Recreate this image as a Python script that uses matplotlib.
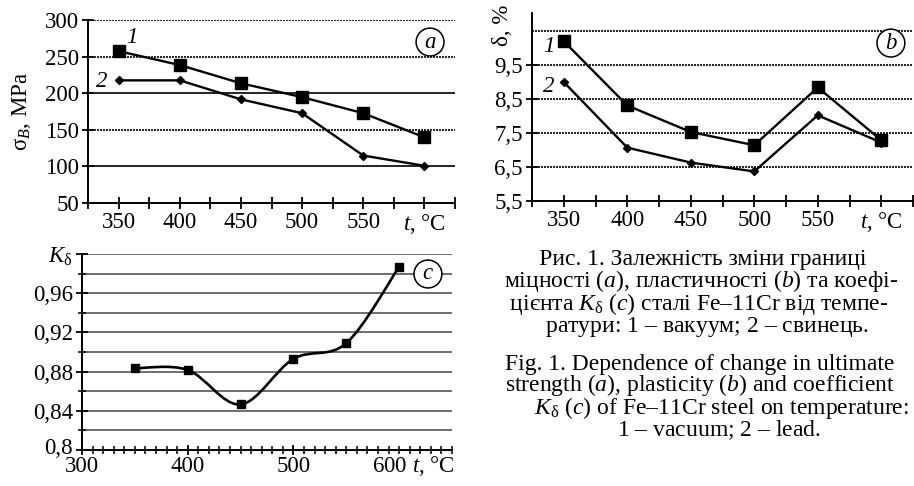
import numpy as np
import matplotlib
matplotlib.use("Agg")
import matplotlib.pyplot as plt
from matplotlib.path import Path
from matplotlib.patches import PathPatch
from matplotlib.ticker import MultipleLocator
from matplotlib.transforms import ScaledTranslation

plt.rcParams["font.family"] = ["Liberation Serif", "DejaVu Serif"]
plt.rcParams["mathtext.fontset"] = "custom"
plt.rcParams["mathtext.rm"] = "Liberation Serif"
plt.rcParams["mathtext.it"] = "Liberation Serif:italic"
plt.rcParams["mathtext.bf"] = "Liberation Serif:bold"

# data
temp = [350, 400, 450, 500, 550, 600]
sigma_vacuum = [258, 239, 214, 195, 173, 140]
sigma_lead = [218, 218, 192, 173, 115, 101]
delta_vacuum = [10.2, 8.31, 7.53, 7.14, 8.84, 7.29]
delta_lead = [9.0, 7.07, 6.63, 6.37, 8.02, 7.22]
k_delta = [0.8834, 0.8817, 0.8465, 0.893, 0.909, 0.987]

FS = 16.5
CAP = 17
fig = plt.figure(figsize=(9.14, 4.86), dpi=100)


def style_axes(ax):
    for s in ["top", "right"]:
        ax.spines[s].set_visible(False)
    ax.spines["left"].set_linewidth(1.4)
    ax.spines["bottom"].set_linewidth(1.4)
    ax.tick_params(direction="inout", length=9, width=1.3, labelsize=FS, pad=2)


xt = np.arange(325, 626, 25)
xlabels = ["$t$, °C" if v == 600 else (str(v) if v % 50 == 0 else "") for v in xt]

# ---- panel a
ax1 = fig.add_axes([88 / 914, 1 - 203 / 486, 367 / 914, 182.5 / 486])
style_axes(ax1)
ax1.set_xlim(325, 625)
ax1.set_ylim(50, 300)
ax1.set_xticks(xt)
ax1.set_xticklabels(xlabels)
ax1.set_yticks([50, 100, 150, 200, 250, 300])
for v in [100, 150, 200, 250, 300]:
    ls = "-" if v in (100, 200) else (0, (1.2, 0.6))
    ax1.axhline(v, color="black", lw=1.2, ls=ls, zorder=1)
ax1.plot(temp, sigma_vacuum, color="black", lw=1.7, marker="s", ms=8, zorder=3)
ax1.plot(temp, sigma_lead, color="black", lw=1.7, marker="D", ms=4.5, zorder=3)
ax1.set_ylabel("σ$_B$, MPa", fontsize=FS)
ax1.yaxis.set_label_coords(-0.15, 0.5)
ax1.text(361, 277, "1", style="italic", fontsize=FS, ha="center", va="center")
ax1.text(336, 217, "2", style="italic", fontsize=FS, ha="center", va="center")
ax1.text(0.932, 0.882, "$a$", transform=ax1.transAxes, fontsize=FS, ha="center", va="center",
         bbox=dict(boxstyle="circle,pad=0.15", fc="white", ec="black", lw=1.1))

# ---- panel b
ax2 = fig.add_axes([532 / 914, 1 - 201 / 486, 381 / 914, 188 / 486])
style_axes(ax2)
ax2.set_xlim(325, 625)
ax2.set_ylim(5.5, 11.03)
ax2.set_xticks(xt)
ax2.set_xticklabels(xlabels)
ax2.set_yticks([5.5, 6.5, 7.5, 8.5, 9.5])
ax2.set_yticklabels(["5,5", "6,5", "7,5", "8,5", "9,5"])
for v in [6.5, 7.5, 8.5, 9.5, 10.5]:
    ax2.axhline(v, color="black", lw=1.2, ls=(0, (1.2, 0.6)), zorder=1)
ax2.plot(temp, delta_vacuum, color="black", lw=1.7, marker="s", ms=8, zorder=3)
ax2.plot(temp, delta_lead, color="black", lw=1.7, marker="D", ms=4.5, zorder=3)
ax2.text(-0.078, 0.935, "δ, %", transform=ax2.transAxes, rotation=90, fontsize=FS,
         ha="center", va="center")
ax2.text(338, 10.03, "1", style="italic", fontsize=FS, ha="center", va="center")
ax2.text(338, 8.88, "2", style="italic", fontsize=FS, ha="center", va="center")
ax2.text(0.942, 0.84, "$b$", transform=ax2.transAxes, fontsize=FS, ha="center", va="center",
         bbox=dict(boxstyle="circle,pad=0.15", fc="white", ec="black", lw=1.1))

# ---- panel c
ax3 = fig.add_axes([82 / 914, 1 - 450 / 486, 370 / 914, 196 / 486])
style_axes(ax3)
ax3.set_xlim(300, 650)
ax3.set_ylim(0.8, 1.0)
ax3.set_xticks([300, 400, 500])
ax3.set_xticklabels(["300", "400", "500"])
ax3.xaxis.set_minor_locator(MultipleLocator(10))
ax3.tick_params(axis="x", which="minor", direction="inout", length=6, width=1.1)
ax3.tick_params(axis="x", which="major", length=7, pad=1)
ax3.set_yticks([0.8, 0.84, 0.88, 0.92, 0.96, 1.0])
ax3.set_yticklabels(["0,8", "0,84", "0,88", "0,92", "0,96", "$K_\\mathrm{δ}$"])
ax3.yaxis.set_minor_locator(MultipleLocator(0.02))
ax3.tick_params(axis="y", which="minor", direction="inout", length=6, width=1.1)
for v in np.arange(0.82, 1.001, 0.02):
    ax3.axhline(v, color="#555555", lw=1.2, zorder=1)
ax3.text(574, -0.02, "600 $t$, °C", transform=ax3.get_xaxis_transform(), fontsize=FS,
         ha="left", va="top")
# "0,8" sits just above the "300" label, as in the original
lab = ax3.get_yticklabels()[0]
lab.set_transform(lab.get_transform() + ScaledTranslation(0, 4 / 100, fig.dpi_scale_trans))

# smooth curve through the points (Catmull-Rom as cubic Bezier)
pts = np.column_stack([temp, k_delta])
ext = np.vstack([pts[0], pts, pts[-1]])
verts = [tuple(pts[0])]
codes = [Path.MOVETO]
for i in range(1, len(ext) - 2):
    p0, p1, p2, p3 = ext[i - 1], ext[i], ext[i + 1], ext[i + 2]
    verts += [tuple(p1 + (p2 - p0) / 6), tuple(p2 - (p3 - p1) / 6), tuple(p2)]
    codes += [Path.CURVE4] * 3
ax3.add_patch(PathPatch(Path(verts, codes), fc="none", ec="black", lw=1.9, zorder=3))
ax3.plot(temp, k_delta, ls="none", color="black", marker="s", ms=6, zorder=4)
ax3.text(0.935, 0.898, "$c$", transform=ax3.transAxes, fontsize=FS, ha="center", va="center",
         bbox=dict(boxstyle="circle,pad=0.15", fc="white", ec="black", lw=1.1))

# ---- caption (one text block per language)
caption_ua = "\n".join([
    "      Рис. 1. Залежність зміни границі",
    "міцності ($a$), пластичності ($b$) та коефі-",
    " цієнта $K_\\mathrm{δ}$ ($c$) сталі Fe–11Cr від темпе-",
    "       ратури: $\\mathit{1}$ – вакуум; $\\mathit{2}$ – свинець.",
])
caption_en = "\n".join([
    "Fig. 1. Dependence of change in ultimate",
    "strength ($a$), plasticity ($b$) and coefficient",
    "     $K_\\mathrm{δ}$ ($c$) of Fe–11Cr steel on temperature:",
    "                   $\\mathit{1}$ – vacuum; $\\mathit{2}$ – lead.",
])
fig.text(504 / 914, 1 - 294 / 486, caption_ua, fontsize=CAP, ha="left", va="center",
         multialignment="left", linespacing=0.86)
fig.text(505 / 914, 1 - 398 / 486, caption_en, fontsize=CAP, ha="left", va="center",
         multialignment="left", linespacing=0.83)

fig.savefig("out.png", dpi=100)
